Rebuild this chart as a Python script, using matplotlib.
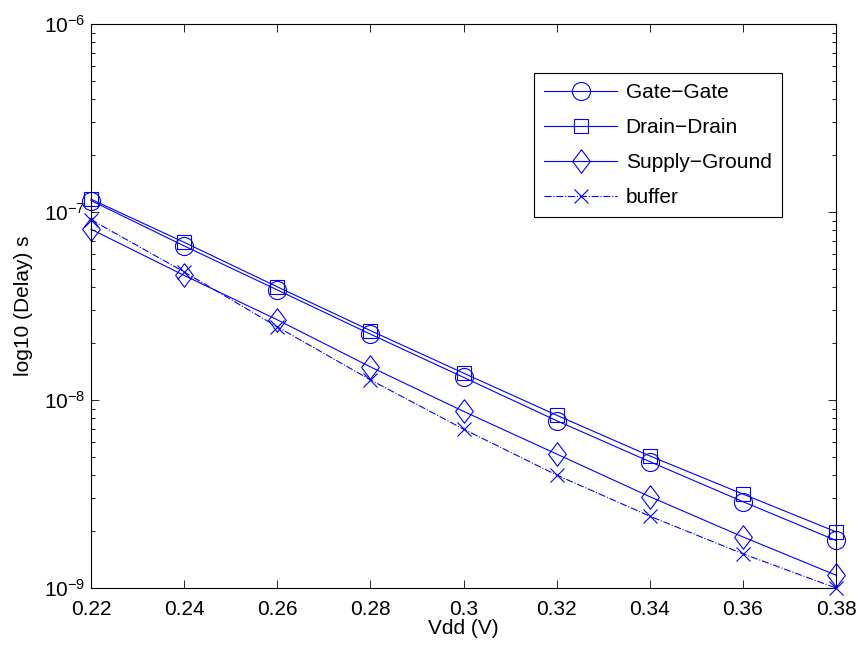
import matplotlib
matplotlib.use('Agg')
import matplotlib.pyplot as plt
from matplotlib.ticker import LogLocator, NullFormatter

plt.rcParams['font.family'] = ['Liberation Sans', 'DejaVu Sans']
plt.rcParams['mathtext.default'] = 'regular'

vdd = [0.22, 0.24, 0.26, 0.28, 0.30, 0.32, 0.34, 0.36, 0.38]
gate_gate = [1.15e-7, 6.6e-8, 3.85e-8, 2.24e-8, 1.32e-8, 7.76e-9, 4.7e-9, 2.88e-9, 1.79e-9]
drain_drain = [1.17e-7, 6.9e-8, 4.0e-8, 2.34e-8, 1.39e-8, 8.3e-9, 5.04e-9, 3.16e-9, 1.99e-9]
supply_ground = [8.1e-8, 4.6e-8, 2.67e-8, 1.50e-8, 8.7e-9, 5.16e-9, 3.06e-9, 1.87e-9, 1.17e-9]
buffer = [9.1e-8, 4.8e-8, 2.45e-8, 1.28e-8, 7.0e-9, 3.99e-9, 2.41e-9, 1.52e-9, 1.0e-9]

xticks = [0.22, 0.24, 0.26, 0.28, 0.30, 0.32, 0.34, 0.36, 0.38]
xtick_labels = ['0.22', '0.24', '0.26', '0.28', '0.3', '0.32', '0.34', '0.36', '0.38']

blue = '#0000ff'
fs = 15

# matlab style diamond (taller than wide)
diamond = [(0, 1), (0.75, 0), (0, -1), (-0.75, 0), (0, 1)]

fig = plt.figure(figsize=(8.57, 6.45), dpi=100)
ax = fig.add_axes([0.1062, 0.0884, 0.8693, 0.8744])

style = dict(color=blue, linewidth=0.8, markerfacecolor='none',
             markeredgewidth=0.8, clip_on=False)
ax.plot(vdd, gate_gate, marker='o', markersize=13, linestyle='-', label='Gate\u2212Gate', **style)
ax.plot(vdd, drain_drain, marker='s', markersize=10, linestyle='-', label='Drain\u2212Drain', **style)
ax.plot(vdd, supply_ground, marker=diamond, markersize=17, linestyle='-',
        label='Supply\u2212Ground', **style)
ax.plot(vdd, buffer, marker='x', markersize=9.5, linestyle='-.', label='buffer', **style)

ax.set_yscale('log')
ax.set_xlim(0.22, 0.38)
ax.set_ylim(1e-9, 1e-6)
ax.set_xticks(xticks)
ax.set_xticklabels(xtick_labels)
ax.yaxis.set_major_locator(LogLocator(base=10, numticks=10))
ax.yaxis.set_minor_locator(LogLocator(base=10, subs=range(2, 10), numticks=20))
ax.yaxis.set_minor_formatter(NullFormatter())

ax.tick_params(which='both', direction='in', top=True, right=True, labelsize=fs, width=0.6)
ax.tick_params(which='major', length=6)
ax.tick_params(which='minor', length=3)
ax.tick_params(axis='x', pad=9)
ax.tick_params(axis='y', pad=4)
for s in ax.spines.values():
    s.set_linewidth(0.8)

ax.set_xlabel('Vdd (V)', fontsize=fs, labelpad=0)
ax.set_ylabel('log10 (Delay) s', fontsize=fs, labelpad=8)

leg = ax.legend(loc='upper right', bbox_to_anchor=(0.9275, 0.913), borderaxespad=0,
                fontsize=fs, fancybox=False, framealpha=1, edgecolor='black',
                handlelength=3.5, labelspacing=0.76, borderpad=0.5, handletextpad=0.4)
leg.get_frame().set_linewidth(0.8)

fig.savefig('out.png', dpi=100)
